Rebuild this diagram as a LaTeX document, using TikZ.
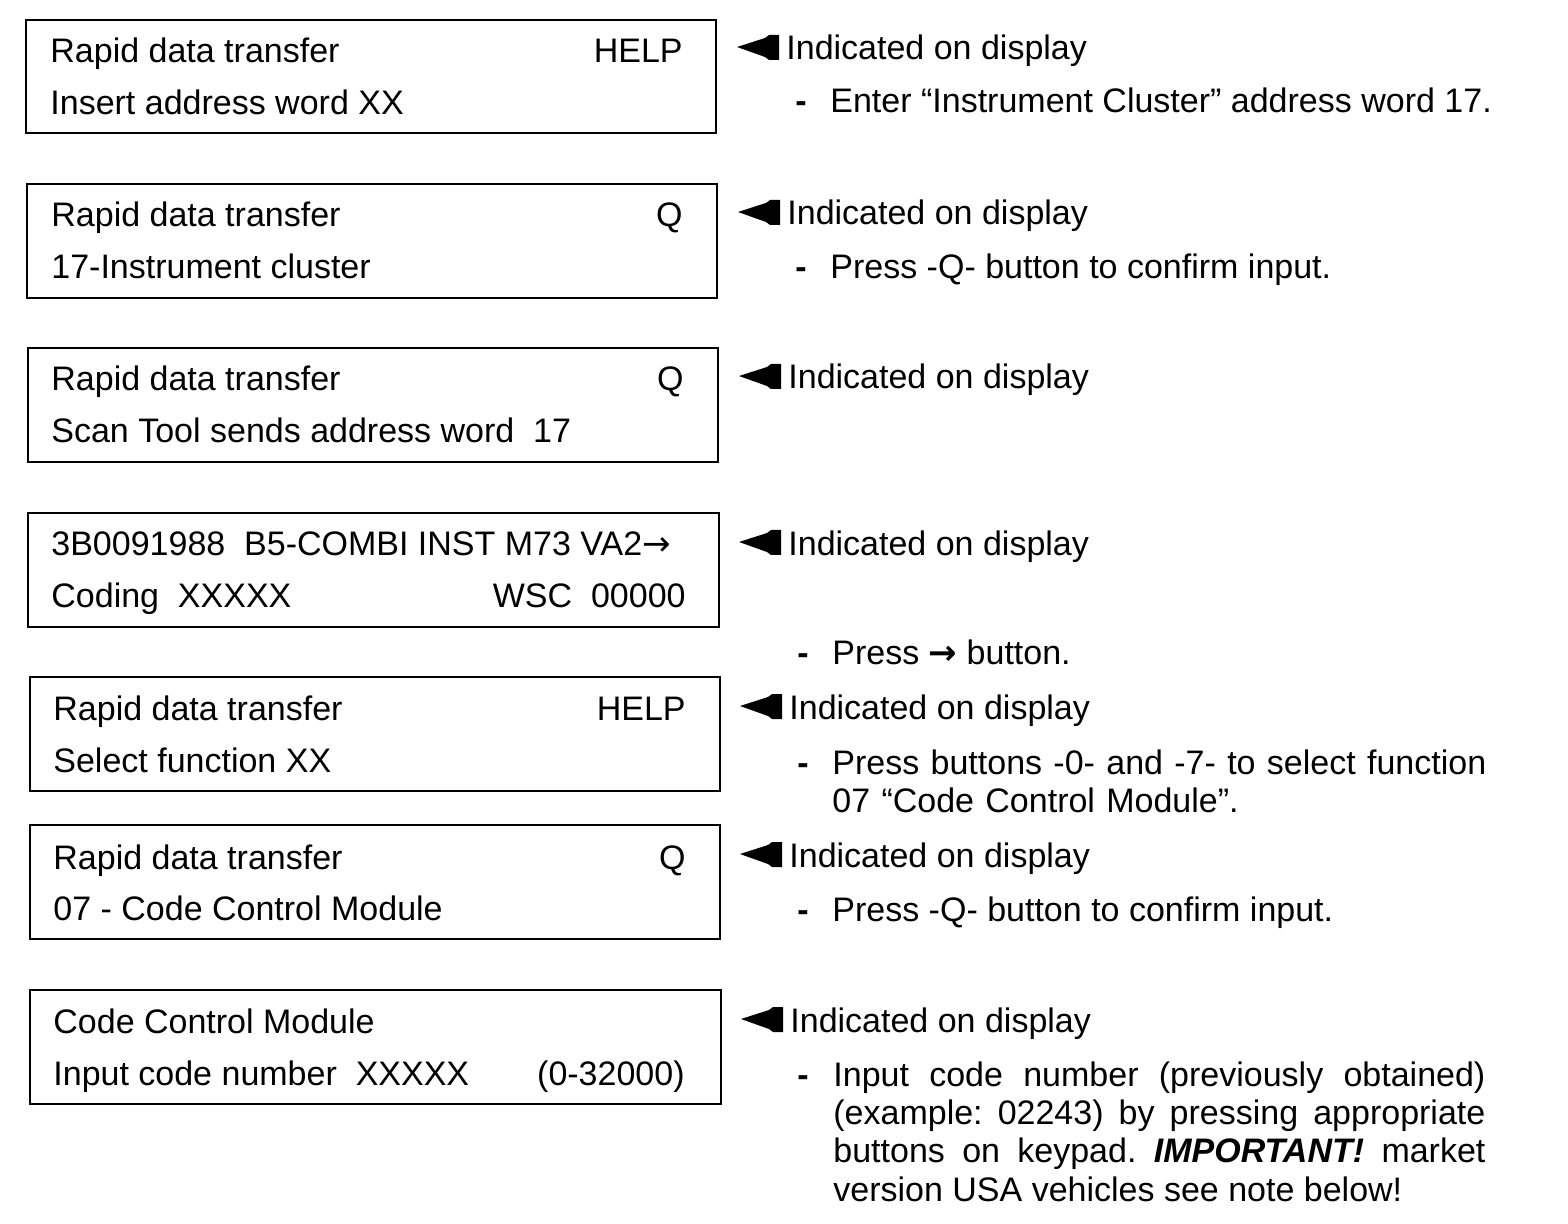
\documentclass[tikz,border=0pt]{standalone}
\usepackage{fontspec}
\setmainfont{Liberation Sans}
\newfontfamily\arrowfont{DejaVu Sans}
\usetikzlibrary{positioning}
\frenchspacing

\begin{document}
\begin{tikzpicture}[x=0.5pt, y=-0.5pt,
    every node/.style={inner sep=0pt, font=\fontsize{17}{19.2}\selectfont},
    screen/.style={draw, line width=1pt},
    lft/.style={anchor=base west},
    rgt/.style={anchor=base east},
    pointer/.pic={\fill (0,0) -- (28,-9) -- (32,-12) -- (42,-12) -- (42,13) -- (32,13) -- (28,10) -- cycle;}]
  \useasboundingbox (0,0) rectangle (1568,1224);

  % Step 1
  \draw[screen] (26,20) rectangle (716,133);
  \node[lft] (s1a) at (50,63) {Rapid data transfer};
  \node[rgt] (s1b) at (683,63) {HELP};
  \node[lft] (s1c) at (50,115) {Insert address word XX};
  \node[lft] (ind1) at (786,60) {Indicated on display};
  \pic at ([xshift=-24.5pt, yshift=6.5pt]ind1.base west) {pointer};
  \node[lft] (txt1) at (830,113) {Enter “Instrument Cluster” address word 17.};
  \node[lft] (dsh1) at ([xshift=-17.5pt]txt1.base west) {\textbf{-}};

  % Step 2
  \draw[screen] (27,184) rectangle (717,298);
  \node[lft] (s2a) at (51,227) {Rapid data transfer};
  \node[rgt] (s2b) at (683,227) {Q};
  \node[lft] (s2c) at (51,279) {17-Instrument cluster};
  \node[lft] (ind2) at (787,225) {Indicated on display};
  \pic at ([xshift=-24.5pt, yshift=6.5pt]ind2.base west) {pointer};
  \node[lft] (txt2) at (830,279) {Press -Q- button to confirm input.};
  \node[lft] (dsh2) at ([xshift=-17.5pt]txt2.base west) {\textbf{-}};

  % Step 3
  \draw[screen] (28,348) rectangle (718,462);
  \node[lft] (s3a) at (51,391) {Rapid data transfer};
  \node[rgt] (s3b) at (684,391) {Q};
  \node[lft] (s3c) at (51,443) {Scan Tool sends address word~~17};
  \node[lft] (ind3) at (788,389) {Indicated on display};
  \pic at ([xshift=-24.5pt, yshift=6.5pt]ind3.base west) {pointer};

  % Step 4
  \draw[screen] (28,513) rectangle (719,627);
  \node[lft] (s4a) at (51,555) {3B0091988~~B5-COMBI INST M73 VA2{\arrowfont →}};
  \node[lft] (s4c) at (51,607) {Coding~~XXXXX};
  \node[rgt] (s4d) at (686,607) {WSC~~00000};
  \node[lft] (ind4) at (788,555) {Indicated on display};
  \pic at ([xshift=-24.5pt, yshift=6.5pt]ind4.base west) {pointer};
  \node[lft] (txt4) at (832,664) {Press {\arrowfont\bfseries →} button.};
  \node[lft] (dsh4) at ([xshift=-17.5pt]txt4.base west) {\textbf{-}};

  % Step 5
  \draw[screen] (30,677) rectangle (720,791);
  \node[lft] (s5a) at (53,720) {Rapid data transfer};
  \node[rgt] (s5b) at (686,720) {HELP};
  \node[lft] (s5c) at (53,772) {Select function XX};
  \node[lft] (ind5) at (789,719) {Indicated on display};
  \pic at ([xshift=-24.5pt, yshift=6.5pt]ind5.base west) {pointer};
  \node[lft, text width=350pt, align=left] (txt5) at (832,774) {Press buttons -0- and -7- to select function\\07 “Code Control Module”.};
  \node[lft] (dsh5) at ([xshift=-17.5pt]txt5.base west) {\textbf{-}};

  % Step 6
  \draw[screen] (30,825) rectangle (720,939);
  \node[lft] (s6a) at (53,869) {Rapid data transfer};
  \node[rgt] (s6b) at (686,869) {Q};
  \node[lft] (s6c) at (53,920) {07 - Code Control Module};
  \node[lft] (ind6) at (789,867) {Indicated on display};
  \pic at ([xshift=-24.5pt, yshift=6.5pt]ind6.base west) {pointer};
  \node[lft] (txt6) at (832,921) {Press -Q- button to confirm input.};
  \node[lft] (dsh6) at ([xshift=-17.5pt]txt6.base west) {\textbf{-}};

  % Step 7
  \draw[screen] (30,990) rectangle (721,1104);
  \node[lft] (s7a) at (53,1033) {Code Control Module};
  \node[lft] (s7c) at (53,1085) {Input code number~~XXXXX};
  \node[rgt] (s7d) at (685,1085) {(0-32000)};
  \node[lft] (ind7) at (790,1032) {Indicated on display};
  \pic at ([xshift=-24.5pt, yshift=6.5pt]ind7.base west) {pointer};
  \node[lft, text width=326pt, align=justify] (txt7) at (833,1086) {Input code number (previously obtained)\linebreak (example: 02243) by pressing appropriate\linebreak buttons on keypad. \textbf{\textit{IMPORTANT!}} market\linebreak version USA vehicles see note below!};
  \node[lft] (dsh7) at ([xshift=-18pt]txt7.base west) {\textbf{-}};
\end{tikzpicture}
\end{document}
